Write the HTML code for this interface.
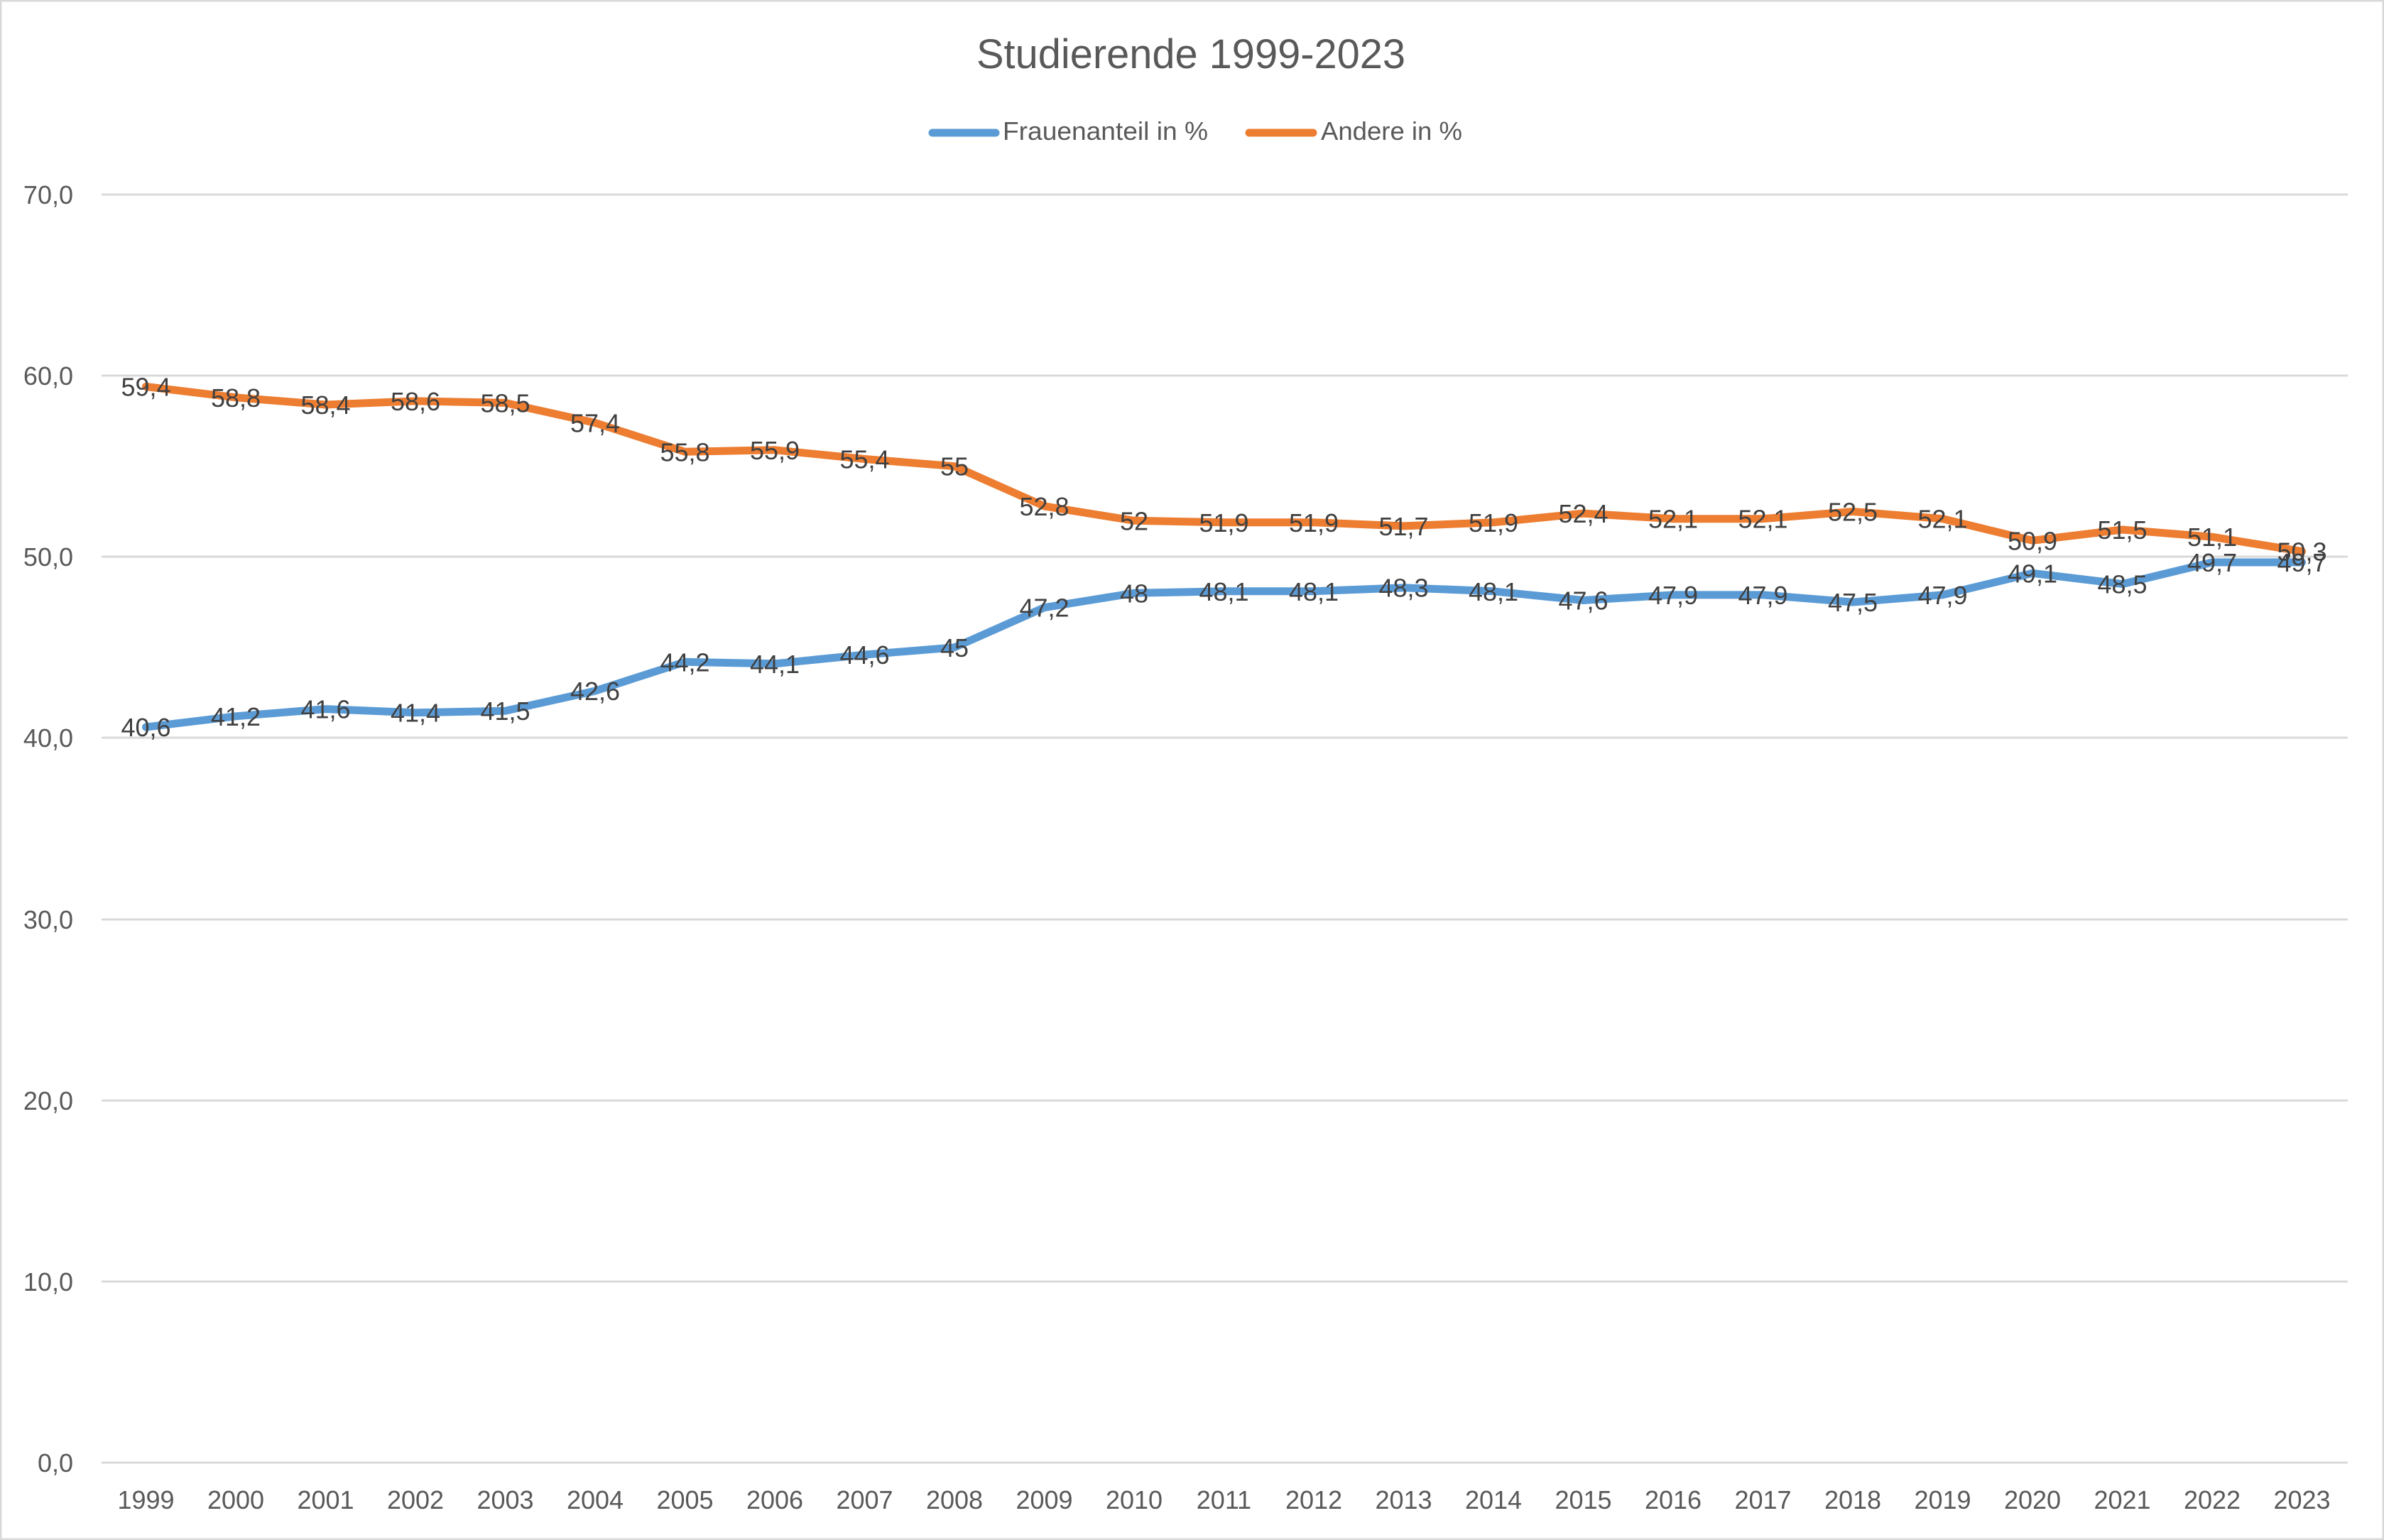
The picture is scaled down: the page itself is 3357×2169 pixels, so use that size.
<!DOCTYPE html>
<html><head><meta charset="utf-8"><style>html,body{margin:0;padding:0;background:#fff}svg{display:block}</style></head>
<body>
<svg xmlns="http://www.w3.org/2000/svg" width="3357" height="2169" viewBox="0 0 3357 2169" font-family="'Liberation Sans', sans-serif">
<rect x="1" y="1" width="3355" height="2167" fill="#fff" stroke="#d9d9d9" stroke-width="3"/>
<text x="1375" y="96" font-size="58" fill="#595959" textLength="604" lengthAdjust="spacingAndGlyphs">Studierende 1999-2023</text>
<line x1="1313" y1="187" x2="1402" y2="187" stroke="#5b9bd5" stroke-width="11" stroke-linecap="round"/>
<text x="1412" y="197" font-size="36" fill="#595959" textLength="289" lengthAdjust="spacingAndGlyphs">Frauenanteil in %</text>
<line x1="1759" y1="187" x2="1849" y2="187" stroke="#ed7d31" stroke-width="11" stroke-linecap="round"/>
<text x="1860" y="197" font-size="36" fill="#595959" textLength="199" lengthAdjust="spacingAndGlyphs">Andere in %</text>
<g stroke="#d9d9d9" stroke-width="3">
<line x1="143" x2="3306" y1="274" y2="274"/>
<line x1="143" x2="3306" y1="529" y2="529"/>
<line x1="143" x2="3306" y1="784" y2="784"/>
<line x1="143" x2="3306" y1="1039" y2="1039"/>
<line x1="143" x2="3306" y1="1295" y2="1295"/>
<line x1="143" x2="3306" y1="1550" y2="1550"/>
<line x1="143" x2="3306" y1="1805" y2="1805"/>
<line x1="143" x2="3306" y1="2060" y2="2060"/>
</g>
<g font-size="36" fill="#595959" text-anchor="end">
<text x="103" y="287">70,0</text>
<text x="103" y="542">60,0</text>
<text x="103" y="797">50,0</text>
<text x="103" y="1052">40,0</text>
<text x="103" y="1308">30,0</text>
<text x="103" y="1563">20,0</text>
<text x="103" y="1818">10,0</text>
<text x="103" y="2073">0,0</text>
</g>
<g id="chart"></g>
<script>
var ns="http://www.w3.org/2000/svg",g=document.getElementById("chart");
var f=[40.6,41.2,41.6,41.4,41.5,42.6,44.2,44.1,44.6,45,47.2,48,48.1,48.1,48.3,48.1,47.6,47.9,47.9,47.5,47.9,49.1,48.5,49.7,49.7];
var a=[59.4,58.8,58.4,58.6,58.5,57.4,55.8,55.9,55.4,55,52.8,52,51.9,51.9,51.7,51.9,52.4,52.1,52.1,52.5,52.1,50.9,51.5,51.1,50.3];
function X(i){return 205.5+i*126.5}function Y(v){return 2060-v*25.514}
function el(n,at,t){var e=document.createElementNS(ns,n);for(var k in at)e.setAttribute(k,at[k]);if(t)e.textContent=t;g.appendChild(e);return e}
for(var i=0;i<25;i++)el("text",{x:X(i),y:2125,"font-size":36,fill:"#595959","text-anchor":"middle"},String(1999+i));
[[f,"#5b9bd5"],[a,"#ed7d31"]].forEach(function(s){var p=s[0].map(function(v,i){return X(i).toFixed(1)+","+Y(v).toFixed(1)}).join(" ");
el("polyline",{points:p,fill:"none",stroke:s[1],"stroke-width":11,"stroke-linejoin":"round","stroke-linecap":"round"})});
[f,a].forEach(function(s){s.forEach(function(v,i){el("text",{x:X(i),y:Y(v)+13,"font-size":36,fill:"#404040","text-anchor":"middle"},String(v).replace(".",","))})});
</script>
</svg>
</body></html>
